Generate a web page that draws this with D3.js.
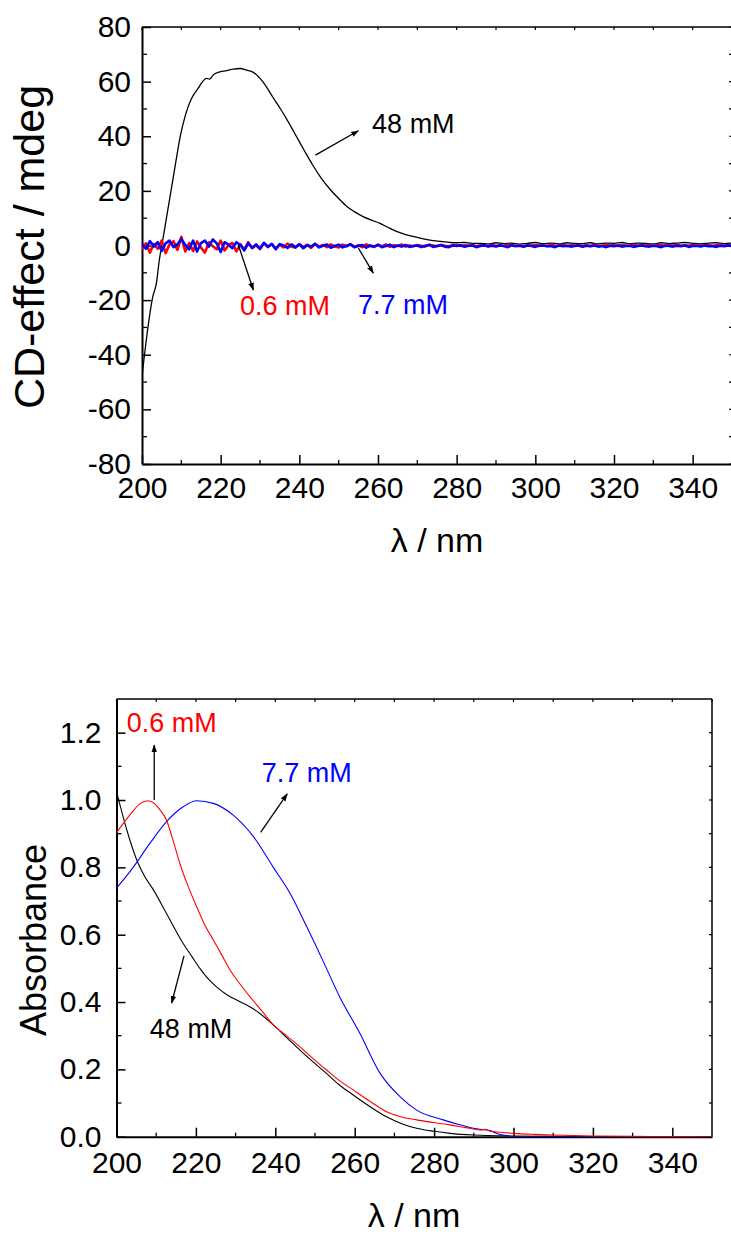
<!DOCTYPE html>
<html>
<head>
<meta charset="utf-8">
<script src="https://cdn.jsdelivr.net/npm/d3@7"></script>
<style>
  html, body { margin: 0; padding: 0; background: #fff; }
  svg { display: block; font-family: "Liberation Sans", Arial, Helvetica, sans-serif; }
</style>
</head>
<body>
<svg id="chart" width="731" height="1235"></svg>
<script>
// ---------- CD spectra (upper panel) ----------
// 0.6 mM and 7.7 mM traces, sampled every 1 nm from 200 to 350 nm
const cdGrid = d3.range(200, 351, 1);
const cdRed06 = [
  -1.4, 0.8, -2.6, 0.6, -1.2, 1.8, -2.8, 0.4, 1.6, -1.6,
  3.2, -2.2, 0.9, -2.0, 1.5, -0.8, -2.6, 1.2, -0.3, -1.4,
  1.8, -1.8, 0.2, 0.9, -2.2, 0.5, -1.5, 1.2, -1.0, 0.1,
  -1.3, 0.8, -0.6, 0.6, -1.1, 0.3, -0.7, 0.7, -0.4, -0.8,
  0.5, -0.5, 0.3, -0.9, 0.6, -0.4, 0.2, -0.6, 0.4, -0.3,
  -0.7, 0.3, -0.3, 0.5, -0.5, 0.1, -0.6, 0.4, -0.2, -0.5,
  0.3, -0.3, 0.4, -0.5, 0.1, -0.2, 0.4, -0.4, 0.0, -0.3,
  0.2, -0.1, -0.4, 0.3, 0.0, -0.3, 0.3, -0.1, -0.3, 0.1,
  0.3, -0.2, 0.1, -0.1, 0.2, -0.3, 0.1, 0.0, -0.2, 0.2,
  -0.1, 0.1, -0.2, 0.3, 0.0, -0.1, 0.2, -0.2, 0.1, 0.0,
  0.2, -0.1, 0.1, -0.2, 0.3, 0.0, -0.1, 0.2, -0.2, 0.1,
  0.0, 0.2, -0.1, 0.1, -0.2, 0.3, 0.0, -0.1, 0.2, 0.0,
  0.1, -0.2, 0.2, 0.0, -0.1, 0.3, -0.1, 0.1, 0.0, 0.2,
  -0.1, 0.1, 0.2, -0.2, 0.1, 0.0, 0.3, -0.1, 0.1, 0.0,
  0.2, -0.1, 0.1, 0.0, 0.2, -0.2, 0.1, 0.3, 0.0, 0.1, 0.0
];
const cdBlue77 = [
  0.6, -1.2, 1.6, -0.4, 1.2, -2.0, 0.8, 1.8, -0.6, 0.4,
  2.4, 0.2, -1.4, 1.8, -2.2, 0.9, 1.8, -0.4, 2.2, 0.8,
  -2.4, 1.2, 0.3, -1.0, 1.2, 0.2, -1.8, 0.8, -0.8, 0.4,
  -1.1, 1.0, -0.4, 0.5, -1.4, 0.5, 0.0, -0.9, 0.4, -0.6,
  0.4, -1.0, 0.1, -0.4, 0.6, -0.7, -0.1, 0.4, -0.8, -0.2,
  0.3, -0.7, -0.1, 0.4, -0.6, -0.2, 0.2, -0.8, 0.0, -0.4,
  0.2, -0.6, -0.2, 0.3, -0.6, 0.0, -0.4, 0.2, -0.5, -0.2,
  0.0, -0.6, -0.1, 0.2, -0.5, -0.2, 0.1, -0.4, -0.6, 0.0,
  -0.2, 0.1, -0.5, -0.1, 0.0, -0.6, -0.2, 0.1, -0.4, -0.1,
  -0.4, 0.0, -0.2, -0.6, 0.1, -0.3, -0.1, -0.5, 0.0, -0.2,
  -0.5, -0.1, 0.0, -0.3, -0.2, -0.6, 0.0, -0.3, -0.1, -0.4,
  -0.2, 0.0, -0.5, -0.1, -0.3, 0.0, -0.4, -0.2, -0.6, -0.1,
  -0.3, 0.0, -0.4, -0.2, -0.1, -0.5, -0.2, 0.0, -0.3, -0.4,
  -0.1, -0.3, -0.6, 0.0, -0.2, -0.4, -0.1, -0.3, 0.0, -0.5,
  -0.2, -0.1, -0.4, 0.0, -0.3, -0.2, -0.5, -0.1, -0.3, 0.0, -0.2
];
// 48 mM trace
const cdBlackWl = [
  200, 201.2, 202.7, 203.7, 204.4, 205, 206.7, 208.4, 209.7, 210.9,
  212.6, 213.5, 214.3, 215.2, 216.4, 217.2, 218, 219.8, 221.5, 223.2,
  225, 226.6, 228.3, 230.8, 233.4, 235.3, 237.3, 239.3, 241.4, 243.5,
  245.6, 247.8, 250, 252, 254, 256.2, 258.3, 260.5, 262.6, 264.7,
  266.8, 268.9, 271, 273.2, 276, 279, 282, 284,
  286, 288, 290, 292, 294, 296, 298, 300, 302, 304, 306, 308, 310,
  312, 314, 316, 318, 320, 322, 324, 326, 328, 330, 332, 334, 336,
  338, 340, 342, 344, 346, 348, 350
];
const cdBlackVal = [
  -48, -33.4, -19.0, -13.5, -5.3, -0.4, 14.2, 28.9, 39.8, 47.0,
  53.8, 56.0, 57.6, 59.6, 61.2, 60.9, 62.3, 63.6, 64.0, 64.6,
  64.8, 64.2, 63.4, 59.8, 54.0, 49.8, 45.0, 39.8, 34.4, 29.2,
  24.6, 20.6, 17.2, 14.4, 12.4, 10.6, 9.3, 8.1, 6.6, 5.2,
  4.1, 3.3, 2.6, 2.0, 1.5, 1.0, 1.1, 0.8,
  0.8, 0.6, 1.0, 0.7, 0.9, 0.5, 0.8, 1.1, 0.7, 0.9, 0.6, 1.0, 0.8,
  0.7, 1.0, 0.6, 0.9, 0.8, 1.1, 0.7, 0.9, 0.8, 0.6, 1.0, 0.7, 0.9,
  1.1, 0.8, 0.6, 0.9, 1.0, 0.7, 0.9
];
const cdXTicks = [200, 220, 240, 260, 280, 300, 320, 340];
const cdYTicks = [-80, -60, -40, -20, 0, 20, 40, 60, 80];

// ---------- Absorption spectra (lower panel) ----------
const absRedWl = [200, 202, 204, 206, 208, 209.5, 211, 212.6, 214, 216, 218, 220.2, 222, 224.4, 226.5, 228.6, 231, 233.6, 236.5, 239.5, 243, 246.2, 249.5, 252.9, 256, 259.6, 264, 268, 272, 275.6, 280, 284, 288, 291.6, 293, 294, 296, 300, 305, 310, 320, 330, 340, 350];
const absRedVal = [0.903, 0.935, 0.965, 0.99, 0.998, 0.99, 0.97, 0.94, 0.89, 0.81, 0.745, 0.683, 0.635, 0.584, 0.54, 0.495, 0.455, 0.416, 0.375, 0.332, 0.298, 0.267, 0.232, 0.198, 0.168, 0.139, 0.104, 0.074, 0.058, 0.050, 0.042, 0.035, 0.027, 0.020, 0.022, 0.017, 0.014, 0.010, 0.007, 0.005, 0.002, 0.001, 0.0005, 0.0];
const absBlueWl = [200, 204.2, 208.4, 212.6, 216.8, 220.2, 224.4, 229.4, 234.5, 239.5, 243.7, 247.9, 252.1, 256.2, 261.3, 266.4, 271.4, 275.6, 282.3, 286, 289.9, 292, 293.2, 294, 296, 299, 300, 350];
const absBlueVal = [0.738, 0.80, 0.871, 0.936, 0.98, 0.998, 0.99, 0.955, 0.891, 0.80, 0.723, 0.624, 0.52, 0.416, 0.307, 0.188, 0.119, 0.079, 0.05, 0.037, 0.025, 0.021, 0.020, 0.018, 0.009, 0.002, 0, 0];
const absBlackWl = [200, 202.6, 205.1, 207, 209.3, 212.6, 216.8, 219, 221, 223, 225.2, 228, 231.1, 234, 236.1, 239.5, 243, 246.2, 249.5, 252.9, 256, 259.6, 264, 268, 272, 275.6, 280, 284, 290, 300, 310, 320, 350];
const absBlackVal = [1.025, 0.911, 0.822, 0.775, 0.733, 0.663, 0.574, 0.535, 0.50, 0.47, 0.445, 0.42, 0.401, 0.383, 0.366, 0.332, 0.293, 0.257, 0.222, 0.188, 0.155, 0.124, 0.088, 0.059, 0.038, 0.025, 0.016, 0.010, 0.005, 0.002, 0.001, 0.0, 0.0];
const absXTicks = [200, 220, 240, 260, 280, 300, 320, 340];
const absYTicks = [0.0, 0.2, 0.4, 0.6, 0.8, 1.0, 1.2];

// Concentration labels with arrows, in data coordinates
const cdNotes = [
  { text: "48 mM", color: "#000", tx: 258.5, ty: 41.3, a: [244.1, 33.1, 255.0, 42.0] },
  { text: "0.6 mM", color: "#ff0000", tx: 224.9, ty: -25.4, a: [224.5, 0.2, 228.3, -16.3] },
  { text: "7.7 mM", color: "#0000ff", tx: 254.9, ty: -25.2, a: [255.0, -0.9, 258.8, -10.1] }
];
const absNotes = [
  { text: "0.6 mM", color: "#ff0000", tx: 202.6, ty: 1.203, a: [209.5, 1.0, 209.5, 1.163] },
  { text: "7.7 mM", color: "#0000ff", tx: 236.6, ty: 1.054, a: [236.3, 0.904, 243.0, 1.018] },
  { text: "48 mM", color: "#000", tx: 208.4, ty: 0.293, a: [217.0, 0.537, 213.9, 0.397] }
];

const svg = d3.select("#chart");

svg.append("defs").append("marker")
  .attr("id", "head")
  .attr("viewBox", "0 0 10 10")
  .attr("refX", 9).attr("refY", 5)
  .attr("markerWidth", 8).attr("markerHeight", 8)
  .attr("markerUnits", "userSpaceOnUse")
  .attr("orient", "auto")
  .append("path").attr("d", "M0,1.5 L10,5 L0,8.5 Z").attr("fill", "#000");

// plain hyphen for negative tick labels
const hyphenInt = d => (d < 0 ? "-" + Math.abs(d) : String(d));

function panel(opt) {
  const x = d3.scaleLinear().domain([200, 350]).range([opt.left, opt.right]);
  const y = d3.scaleLinear().domain(opt.yDomain).range([opt.bottom, opt.top]);
  const g = svg.append("g");
  const fs = opt.tickFont;

  // frame
  g.append("line").attr("x1", opt.left).attr("x2", opt.right).attr("y1", opt.top).attr("y2", opt.top)
    .attr("stroke", "#000").attr("stroke-width", 1.5);
  g.append("line").attr("x1", opt.right).attr("x2", opt.right).attr("y1", opt.top).attr("y2", opt.bottom)
    .attr("stroke", "#000").attr("stroke-width", 1.5);

  // minor ticks
  const xMinor = d3.range(210, 350, 20);
  const yMinor = opt.yMinor;
  g.append("g").selectAll("line").data(xMinor).join("line")
    .attr("x1", d => x(d)).attr("x2", d => x(d)).attr("y1", opt.bottom).attr("y2", opt.bottom - 4)
    .attr("stroke", "#000").attr("stroke-width", 1.3);
  g.append("g").selectAll("line").data(yMinor).join("line")
    .attr("x1", opt.left).attr("x2", opt.left + 5).attr("y1", d => y(d)).attr("y2", d => y(d))
    .attr("stroke", "#000").attr("stroke-width", 1.3);
  // top and right small ticks
  g.append("g").selectAll("line").data(d3.range(200, 351, 10)).join("line")
    .attr("x1", d => x(d)).attr("x2", d => x(d)).attr("y1", opt.top).attr("y2", opt.top + 3)
    .attr("stroke", "#000").attr("stroke-width", 1.2);
  g.append("g").selectAll("line").data(opt.yTicks.concat(yMinor)).join("line")
    .attr("x1", opt.right).attr("x2", opt.right - 3).attr("y1", d => y(d)).attr("y2", d => y(d))
    .attr("stroke", "#000").attr("stroke-width", 1.2);

  // major axes
  const xAxis = d3.axisBottom(x).tickValues(opt.xTicks).tickSizeInner(-9).tickSizeOuter(0).tickPadding(opt.xPad)
    .tickFormat(d3.format("d"));
  const gx = g.append("g").attr("transform", `translate(0,${opt.bottom})`).call(xAxis);
  const yAxis = d3.axisLeft(y).tickValues(opt.yTicks).tickSizeInner(-9).tickSizeOuter(0).tickPadding(opt.yPad)
    .tickFormat(opt.yFormat);
  const gy = g.append("g").attr("transform", `translate(${opt.left},0)`).call(yAxis);
  [gx, gy].forEach(a => {
    a.select(".domain").attr("stroke", "#000").attr("stroke-width", 2);
    a.selectAll(".tick line").attr("stroke", "#000").attr("stroke-width", 1.5);
    a.selectAll(".tick text").attr("fill", "#000").attr("font-size", fs + "px")
      .attr("font-family", "Liberation Sans, Arial, sans-serif");
  });

  // axis titles
  g.append("text").attr("x", opt.xTitle[0]).attr("y", opt.xTitle[1]).attr("text-anchor", "middle")
    .attr("font-size", opt.xTitleFont + "px").text("\u03bb / nm");
  g.append("text").attr("transform", `translate(${opt.yTitle[0]},${opt.yTitle[1]}) rotate(-90)`)
    .attr("text-anchor", "middle").attr("font-size", opt.yTitleFont + "px").text(opt.yLabel);

  // data
  const clipId = "clip" + opt.id;
  svg.append("clipPath").attr("id", clipId).append("rect")
    .attr("x", opt.left).attr("y", opt.top - 1).attr("width", opt.right - opt.left).attr("height", opt.bottom - opt.top + 1);
  const plot = g.append("g").attr("clip-path", `url(#${clipId})`);
  opt.series.forEach(s => {
    const line = d3.line().x(d => x(d[0])).y(d => y(d[1])).curve(s.smooth ? d3.curveMonotoneX : d3.curveLinear);
    plot.append("path").datum(d3.zip(s.wl, s.val)).attr("d", line)
      .attr("fill", "none").attr("stroke", s.color).attr("stroke-width", s.width)
      .attr("stroke-linejoin", "round");
  });

  // notes
  opt.notes.forEach(n => {
    g.append("line").attr("x1", x(n.a[0])).attr("y1", y(n.a[1])).attr("x2", x(n.a[2])).attr("y2", y(n.a[3]))
      .attr("stroke", "#000").attr("stroke-width", 1.3).attr("marker-end", "url(#head)");
    g.append("text").attr("x", x(n.tx)).attr("y", y(n.ty)).attr("fill", n.color)
      .attr("font-size", opt.noteFont + "px").text(n.text);
  });
}

panel({
  id: "cd", left: 142, right: 732, top: 27, bottom: 464,
  yDomain: [-80, 80], yTicks: cdYTicks, yMinor: d3.range(-70, 80, 20), xTicks: cdXTicks,
  yFormat: hyphenInt, tickFont: 30, xTitleFont: 34, yTitleFont: 43, noteFont: 27, xPad: 13, yPad: 11,
  xTitle: [437, 552], yTitle: [44, 247], yLabel: "CD-effect / mdeg",
  series: [
    { wl: cdBlackWl, val: cdBlackVal, color: "#000", width: 1.3, smooth: true },
    { wl: cdGrid, val: cdRed06, color: "#ff0000", width: 2.6 },
    { wl: cdGrid, val: cdBlue77, color: "#0000ff", width: 2.6 }
  ],
  notes: cdNotes
});

panel({
  id: "abs", left: 116.5, right: 712, top: 699, bottom: 1136.7,
  yDomain: [0, 1.3], yTicks: absYTicks, yMinor: [0.1, 0.3, 0.5, 0.7, 0.9, 1.1], xTicks: absXTicks,
  yFormat: d3.format(".1f"), tickFont: 30, xTitleFont: 34, yTitleFont: 36, noteFont: 27, xPad: 15, yPad: 15,
  xTitle: [414, 1227], yTitle: [46, 940], yLabel: "Absorbance",
  series: [
    { wl: absBlackWl, val: absBlackVal, color: "#000", width: 1.1, smooth: true },
    { wl: absBlueWl, val: absBlueVal, color: "#0000ff", width: 1.1, smooth: true },
    { wl: absRedWl, val: absRedVal, color: "#ff0000", width: 1.1, smooth: true }
  ],
  notes: absNotes
});
</script>
</body>
</html>
